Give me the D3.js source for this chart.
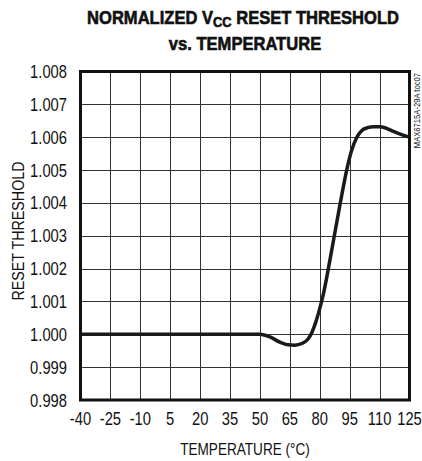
<!DOCTYPE html>
<html>
<head>
<meta charset="utf-8">
<script src="https://cdn.jsdelivr.net/npm/d3@7"></script>
<style>
  body { margin: 0; background: #fff; }
  text { font-family: "Liberation Sans Narrow", "Liberation Sans", Arial, sans-serif; fill: #111; }
</style>
</head>
<body>
<svg id="chart" width="422" height="461"></svg>
<script>
// data
var temps = [-40, 45, 50, 55, 60, 64, 67.5, 71, 74, 76, 78, 80, 82, 84, 87, 90, 93.5, 96, 98.6, 101, 104, 107, 110, 113, 116, 120, 125];
var thresh = [1.000, 1.000, 1.000, 0.99992, 0.99976, 0.99968, 0.99967, 0.99972, 0.99985, 1.00005, 1.00037, 1.00079, 1.00128, 1.0019, 1.0029, 1.0039, 1.005, 1.0056, 1.006, 1.0062, 1.00629, 1.00632, 1.00632, 1.00628, 1.0062, 1.0061, 1.006];
var xTicks = [-40, -25, -10, 5, 20, 35, 50, 65, 80, 95, 110, 125];
var yTicks = [0.998, 0.999, 1.000, 1.001, 1.002, 1.003, 1.004, 1.005, 1.006, 1.007, 1.008];

var svg = d3.select("#chart");
var pl = 80.5, pr = 409.5, pt = 71.5, pb = 400;

var x = d3.scaleLinear().domain([-40, 125]).range([pl, pr]);
var y = d3.scaleLinear().domain([0.998, 1.008]).range([pb, pt]);

// no narrow font installed, so squash text horizontally
function label(px, py, str, size, anchor, sq, rot) {
  var g = svg.append("g")
    .attr("transform", "translate(" + px + "," + py + ")" + (rot ? " rotate(" + rot + ")" : "") + " scale(" + sq + ",1)");
  return g.append("text")
    .attr("text-anchor", anchor)
    .style("font-size", size + "px")
    .text(str);
}

// grid
var grid = svg.append("g");
grid.selectAll(".gx").data(xTicks.slice(1, -1)).enter().append("line")
  .attr("x1", function(d){ return Math.round(x(d)) + 0.5; })
  .attr("x2", function(d){ return Math.round(x(d)) + 0.5; })
  .attr("y1", pt).attr("y2", pb)
  .attr("stroke", "#333").attr("stroke-width", 1);
grid.selectAll(".gy").data(yTicks.slice(1, -1)).enter().append("line")
  .attr("y1", function(d){ return Math.round(y(d)) + 0.5; })
  .attr("y2", function(d){ return Math.round(y(d)) + 0.5; })
  .attr("x1", pl).attr("x2", pr)
  .attr("stroke", "#333").attr("stroke-width", 1);

// curve
var line = d3.line()
  .x(function(d, i){ return x(temps[i]); })
  .y(function(d){ return y(d); })
  .curve(d3.curveMonotoneX);
svg.append("path")
  .datum(thresh)
  .attr("d", line)
  .attr("fill", "none")
  .attr("stroke", "#1a1a1a")
  .attr("stroke-width", 3.5);

// frame
svg.append("rect")
  .attr("x", pl).attr("y", pt)
  .attr("width", pr - pl).attr("height", pb - pt)
  .attr("fill", "none").attr("stroke", "#111").attr("stroke-width", 3);

// tick labels
yTicks.forEach(function(d){
  label(67, y(d) + 6.5, d3.format(".3f")(d), 18, "end", 0.82);
});
xTicks.forEach(function(d){
  label(x(d), 425, d, 18, "middle", 0.82);
});

// axis titles
label(245, 455, "TEMPERATURE (°C)", 16, "middle", 0.85);
label(24, 231, "RESET THRESHOLD", 17, "middle", 0.84, -90);

// chart title
var t1 = label(243, 24, "", 18, "middle", 0.92)
  .style("font-weight", "bold").style("stroke", "#111").style("stroke-width", 0.6);
t1.append("tspan").text("NORMALIZED V");
t1.append("tspan").attr("dy", 3).style("font-size", "14px").text("CC");
t1.append("tspan").attr("dy", -3).text(" RESET THRESHOLD");
label(245, 50, "vs. TEMPERATURE", 18, "middle", 0.92)
  .style("font-weight", "bold").style("stroke", "#111").style("stroke-width", 0.6);

// part code
label(420, 73, "MAX6715A-29A toc07", 9, "end", 0.85, -90);
</script>
</body>
</html>
